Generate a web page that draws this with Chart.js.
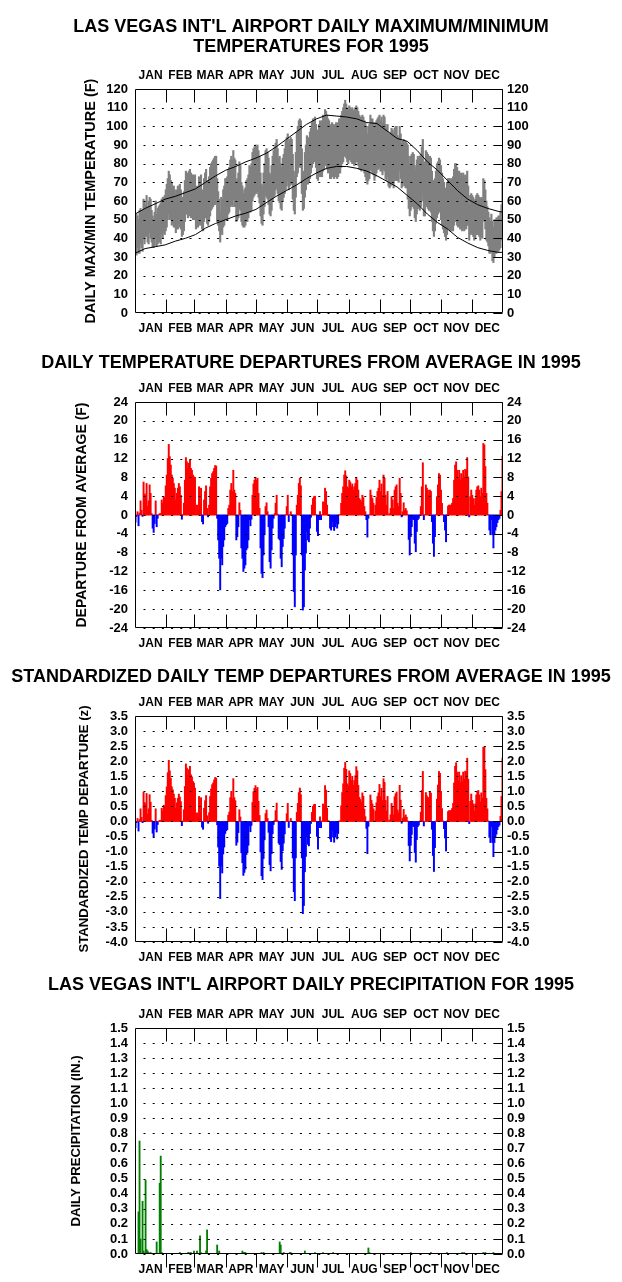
<!DOCTYPE html>
<html>
<head>
<meta charset="utf-8">
<script src="https://cdn.jsdelivr.net/npm/chart.js@4.4.0/dist/chart.umd.min.js"></script>
<style>
  body { margin: 0; background: #fff; }
  #wrap { position: relative; width: 622px; height: 1282px; background: #fff; }
  canvas { position: absolute; left: 0; }
</style>
</head>
<body>
<div id="wrap">
  <canvas id="c1" width="622" height="345" style="top:0px"></canvas>
  <canvas id="c2" width="622" height="310" style="top:345px"></canvas>
  <canvas id="c3" width="622" height="310" style="top:655px"></canvas>
  <canvas id="c4" width="622" height="317" style="top:965px"></canvas>
</div>
<script>
// ================== DATA ==================
const months = ["JAN", "FEB", "MAR", "APR", "MAY", "JUN", "JUL", "AUG", "SEP", "OCT", "NOV", "DEC"];
const monthStart = [0, 31, 59, 90, 120, 151, 181, 212, 243, 273, 304, 334, 365];

// normal max / min (read every 10 days)
const normDays = [0,10,20,30,40,50,60,70,80,90,100,110,120,130,140,150,160,170,180,190,200,210,220,230,240,250,260,270,280,290,300,310,320,330,340,350,360,365];
const normMax = [53,56,58.5,61,62.5,64.5,66.5,70,73.5,76.5,78.5,81,83,85.5,89,93,97,101,104,106,105.5,105,104,102,101.5,97.5,93.5,92,87,81,76.5,71,65.5,61,58,56,54.5,54];
const normMin = [32,34.5,35.5,36.5,38.5,40,42,45.5,48,50,52,53.5,55.5,59,62.5,65.5,68.5,72,75,77.5,78.5,78.5,77.5,76,73.5,70.5,67.5,63,58.5,53,48.5,45,40.5,37.5,35,33.5,32.5,32.5];

// daily observed max / min 1995
const tMax = [
  50,53,52,50,55,56,54,55,61,60, 58,63,57,60,62,61,55,52,50,54, 60,53,56,57,58,59,61,62,62,63,
  66,69,72,76,74,71,70,68,68,66, 64,66,68,68,69,66,60,62,65,71, 76,75,74,76,77,75,74,74,73,74,
  64,68,66,73,69,74,65,66,72,75, 77,71,69,73,78,80,81,82,83,84, 84,72,65,61,54,62,61,66,68,72,
  72,73,77,78,82,84,82,87,83,82, 71,72,75,81,79,70,68,64,66,67, 71,72,74,79,78,80,86,88,89,90,
  89,90,87,84,75,69,68,75,80,87, 88,86,83,75,74,79,84,87,89,91, 93,88,83,84,80,78,83,85,88,92,
  94,96,91,93,94,93,85,76,73,86, 97,100,103,104,103,88,75,76,86,90, 95,94,93,97,99,102,104,104,105,101,
  98,97,101,103,101,103,106,105,109,108, 106,104,103,101,100,102,101,100,101,102, 101,102,104,104,106,108,110,112,114,112,
  110,109,111,110,109,110,108,109,110,111, 110,108,106,105,105,106,105,103,102,100, 96,100,101,106,104,104,102,100,102,103,
  104,105,106,103,105,102,106,105,101,99, 101,96,96,97,99,98,96,99,100,100, 95,94,100,96,91,92,93,91,92,91,
  90,84,80,84,85,86,85,79,77,82, 84,83,84,85,89,93,80,81,87,86, 85,83,84,83,76,71,67,72,76,80,
  81,83,82,79,75,72,70,67,64,70, 72,72,72,71,72,73,77,80,80,78, 75,76,73,75,73,75,73,74,73,76,
  68,58,63,64,63,62,60,61,63,64, 63,62,61,62,61,72,71,66,60,57, 54,51,49,53,49,46,50,50,51,51,
  52,52,54,58,72
];
const tMin = [
  32,31,35,32,32,37,35,33,40,37, 41,41,38,37,43,40,38,35,35,36, 40,36,37,38,38,37,42,40,43,42,
  44,46,50,53,50,50,47,48,46,46, 43,45,45,48,46,45,41,42,44,49, 53,53,51,52,53,51,52,50,51,50,
  45,46,46,50,47,50,45,44,49,51, 51,48,47,49,52,55,56,57,58,58, 59,49,47,44,38,44,42,46,47,50,
  50,50,53,54,57,58,57,61,57,57, 49,50,51,56,55,49,47,46,46,47, 49,49,51,55,54,55,60,62,63,64,
  64,65,62,59,52,48,47,53,57,63, 62,61,58,53,52,55,60,62,63,66, 67,64,60,59,56,55,60,62,64,66,
  68,71,66,68,69,69,61,55,53,62, 73,75,78,79,78,64,55,56,62,66, 71,69,70,72,75,78,80,81,81,78,
  72,71,73,74,73,73,76,77,79,80, 77,75,76,72,72,74,73,72,73,73, 72,73,75,75,78,80,81,84,84,83,
  81,80,82,82,81,80,80,79,80,81, 81,79,77,77,76,77,77,75,73,71, 69,71,72,77,76,75,74,71,73,75,
  77,77,78,76,76,74,77,76,72,71, 73,68,67,68,70,69,67,71,71,71, 71,70,76,72,67,68,70,68,67,67,
  61,56,52,55,57,57,56,51,49,53, 56,56,55,57,60,64,52,52,58,57, 56,55,55,54,49,44,41,44,48,51,
  53,55,54,50,47,45,43,41,39,42, 46,45,44,44,44,44,47,49,50,47, 46,47,45,45,44,46,44,45,45,47,
  47,39,42,43,42,41,39,40,42,42, 42,41,39,41,40,50,49,45,39,38, 36,32,32,34,28,27,30,32,32,33,
  33,34,35,39,44
];

// daily departure from average (F)
const dep = [
  -1.5,-0.3,0.7,-2.3,0.4,3,1,-0.3,7,4.5, 4.2,6.7,1.8,3,6.4,4.6,0.3,-2.8,-3.7,-1.8,
  3,-2.5,-0.7,0.1,0.3,0.3,3.2,2.5,3.9,3.7, 6.2,8.5,12,15,12.4,10.6,8.5,7.8,6.7,5.7,
  3.2,4.6,5.7,6.7,6,4.2,-0.9,0.1,2.5,7.4, 12.2,11.3,9.9,11,11.7,9.9,9.5,8.5,8.1,8,
  0.3,2.1,1,6,2.1,5.7,-1.4,-1.9,3.2,5, 6.2,1.4,-0.4,2.1,6,7.8,8.8,9.2,9.9,10.5,
  10.4,-0.7,-5.3,-9.2,-15.9,-9.2,-10.6,-6.7,-5.3,-2.5, -2.1,-1.8,1.4,2.1,5.3,6.7,5,9.5,5.3,4.6,
  -5.3,-4.6,-2.5,2.6,1,-7,-9.2,-12,-11.3,-10.6, -7.4,-7,-5.3,-1,-2.3,-0.9,4.2,6.6,7.4,8,
  7.4,7.8,4.6,1.4,-7,-12.4,-13.3,-8.5,-4.2,1.8, 2.6,0.7,-2.5,-9.9,-11.3,-7.4,-2.8,-0.7,0.3,2.5,
  4.2,0.2,-5,-5.3,-9.2,-11,-6.7,-5,-2.8,0.1, 1.8,4.2,-1.4,0.1,0.7,0.1,-8.5,-16.3,-19.5,-8.5,
  2.1,4.2,6.7,7.8,6.2,-8.5,-20.2,-19.5,-11.7,-8.1, -3.5,-5.3,-5.7,-2.8,-0.5,2.1,3.5,3.9,4,0.1,
  -3.5,-4.4,-1,0.7,-1,0.1,2.8,2.5,5.7,5, 2.1,0.1,0.1,-2.8,-3.2,-1.4,-2.5,-3.3,-2.5,-1.8,
  -2.8,-1.9,0.1,0.1,2.5,4.6,6,8.5,9.4,8.3, 6,5.7,7.4,7,6,6.6,5.3,6,6.7,8,
  7.4,5.3,3.5,3.2,2.8,4.2,3.7,1.8,0.7,-1, -4.7,-0.7,0.1,5.3,4.2,3.5,2.5,0.1,2.1,3.7,
  5,5.7,7.4,5,6.6,4.2,8.5,7.8,4.2,2.1, 5,0.1,0.3,1.4,3.9,3.2,1.4,5.3,6,6.4,
  2.5,1.8,7.8,4.6,-0.4,0.7,2.6,1,1.4,0.9, 0.1,-5.2,-8.5,-4.6,-2.5,-0.9,-1,-6,-7.8,-3.5,
  -1,-0.7,0.1,1.8,6,11.1,-1,0.1,6.4,5.7, 5.3,4.2,5.3,5,-1.4,-6,-8.8,-4.6,0.1,3.9,
  6.4,8.8,8.5,5.3,2.5,0.1,-1.4,-3.2,-5.7,0.1, 1.9,2.1,2.1,2.1,2.5,3.5,7.4,10.6,11.3,9.5,
  7.8,9.5,7.4,8.8,7.8,9.5,8.1,9.7,9.5,12.2, 8.1,-0.4,3.9,5.3,4.2,3.5,2.1,3.5,5.3,6,
  6.2,5.3,3.9,5.7,4.6,15.2,14.9,10.3,4.6,2.5, 0.1,-3.2,-4.2,-1,-4.2,-7,-4.2,-3.2,-2.5,-1.6,
  -1,-0.7,1,5,12.5
];

// standardized daily departure (z)
const depZ = [
  -0.21,-0.04,0.1,-0.32,0.06,0.42,0.14,-0.04,0.97,0.63, 0.58,0.93,0.25,0.42,0.89,0.64,0.04,-0.39,-0.51,-0.25,
  0.42,-0.35,-0.1,0.01,0.04,0.04,0.44,0.35,0.54,0.51, 0.86,1.15,1.62,2.03,1.68,1.43,1.15,1.05,0.91,0.77,
  0.43,0.62,0.77,0.91,0.81,0.66,-0.14,0.02,0.39,1.16, 1.91,1.77,1.55,1.72,1.83,1.55,1.48,1.33,1.27,1.11,
  0.04,0.29,0.14,0.83,0.29,0.79,-0.19,-0.26,0.44,0.69, 0.86,0.19,-0.06,0.29,0.83,1.08,1.22,1.28,1.38,1.46,
  1.44,-0.11,-0.85,-1.48,-2.56,-1.48,-1.71,-1.08,-0.85,-0.4, -0.31,-0.27,0.21,0.31,0.79,1,0.75,1.42,0.79,0.69,
  -0.79,-0.69,-0.37,0.39,0.15,-1.04,-1.37,-1.79,-1.69,-1.58, -1.1,-1.04,-0.79,-0.15,-0.34,-0.13,0.63,0.99,1.1,1.19,
  1.07,1.13,0.67,0.2,-1.01,-1.8,-1.93,-1.23,-0.61,0.26, 0.38,0.1,-0.36,-1.43,-1.64,-1.07,-0.41,-0.1,0.04,0.36,
  0.61,0.03,-0.72,-0.77,-1.33,-1.59,-0.97,-0.72,-0.41,0.01, 0.26,0.6,-0.2,0.01,0.1,0.01,-1.21,-2.33,-2.63,-1.21,
  0.3,0.6,0.96,1.11,0.89,-1.21,-3.06,-2.79,-1.67,-1.16, -0.5,-0.76,-0.81,-0.4,-0.07,0.3,0.5,0.56,0.57,0.01,
  -0.5,-0.92,-0.21,0.15,-0.21,0.02,0.58,0.52,1.19,1.04, 0.44,0.02,0.02,-0.58,-0.67,-0.29,-0.52,-0.69,-0.52,-0.38,
  -0.58,-0.4,0.02,0.02,0.52,0.96,1.25,1.77,1.96,1.73, 1.25,1.19,1.68,1.59,1.36,1.5,1.2,1.36,1.52,1.82,
  1.68,1.2,0.8,0.73,0.64,0.95,0.84,0.41,0.16,-0.23, -1.07,-0.16,0.02,0.88,0.7,0.58,0.42,0.02,0.35,0.62,
  0.83,0.95,1.23,0.83,1.1,0.7,1.42,1.3,0.7,0.35, 0.83,0.02,0.05,0.22,0.6,0.49,0.22,0.82,0.92,0.98,
  0.38,0.28,1.2,0.71,-0.06,0.11,0.4,0.15,0.22,0.14, 0.02,-0.8,-1.31,-0.79,-0.43,-0.16,-0.17,-1.03,-1.35,-0.6,
  -0.17,-0.12,0.02,0.31,1.03,1.66,-0.15,0.01,0.96,0.85, 0.79,0.79,1,0.94,-0.26,-1.13,-1.66,-0.87,0.02,0.74,
  1.21,1.66,1.6,1,0.43,0.02,-0.24,-0.55,-0.98,0.02, 0.33,0.36,0.36,0.36,0.43,0.6,1.28,1.83,1.95,1.64,
  1.34,1.64,1.28,1.52,1.34,1.64,1.4,1.67,1.64,2.1, 1.4,-0.07,0.67,0.91,0.7,0.58,0.35,0.58,0.88,1,
  1.03,0.88,0.65,0.95,0.77,2.46,2.48,1.72,0.77,0.42, 0.02,-0.53,-0.7,-0.17,-0.7,-1.17,-0.7,-0.53,-0.42,-0.27,
  -0.17,-0.12,0.17,0.83,2.1
];

// daily precipitation (inches), only days with rain
const precipDay = [3,4,5,7,8,10,11,12,13,15,21,24,25,26,44,52,53,55,58,61,64,65,70,71,81,83,106,107,108,109,125,127,143,144,147,153,154,168,178,186,196,231,232,273,293,309,324,326,345,347,355];
const precipIn = [0.28,0.75,0.10,0.35,0.02,0.49,0.03,0.02,0.01,0.01,0.08,0.47,0.65,0.01,0.01,0.01,0.01,0.01,0.02,0.02,0.12,0.01,0.02,0.16,0.06,0.02,0.02,0.01,0.01,0.01,0.01,0.01,0.08,0.06,0.01,0.01,0.01,0.02,0.01,0.01,0.01,0.04,0.01,0.01,0.01,0.01,0.01,0.01,0.01,0.01,0.01];

// ================== STYLE ==================
const FONT = "'Liberation Sans', Arial, sans-serif";

// frame, dotted grid and month ticks
const framePlugin = {
  id: 'frame',
  afterDatasetsDraw(chart, args, opts) {
    const ctx = chart.ctx, a = chart.chartArea;
    const xs = chart.scales.x, ys = chart.scales.y;
    const L = Math.round(a.left) + 0.5, R = Math.round(a.right) - 0.5;
    const T = Math.round(a.top) + 0.5, B = Math.round(a.bottom) - 0.5;
    ctx.save();
    ctx.strokeStyle = '#000';
    ctx.lineWidth = 1;
    ctx.setLineDash([2, 7.2]);
    ys.ticks.forEach(t => {
      const py = Math.round(ys.getPixelForValue(t.value)) + 0.5;
      ctx.beginPath(); ctx.moveTo(L + 8, py); ctx.lineTo(R - 9, py); ctx.stroke();
    });
    ctx.setLineDash([]);
    ctx.beginPath();
    ys.ticks.forEach(t => {
      const py = Math.round(ys.getPixelForValue(t.value)) + 0.5;
      ctx.moveTo(R - 9, py); ctx.lineTo(R, py);
    });
    monthStart.slice(1, 12).forEach(d => {
      const px = Math.round(xs.getPixelForValue(d)) + 0.5;
      ctx.moveTo(px, T); ctx.lineTo(px, T + 13);
      if (opts.outBottom) { ctx.moveTo(px, B); ctx.lineTo(px, B + 14); }
      else { ctx.moveTo(px, B - 13); ctx.lineTo(px, B); }
    });
    ctx.rect(L, T, R - L, B - T);
    ctx.stroke();
    ctx.restore();
  }
};
Chart.register(framePlugin);

function xAxis(position, height) {
  return {
    type: 'linear', position: position, min: 0, max: 365, offset: false,
    grid: { display: false, drawTicks: false, offset: false }, border: { display: false },
    afterBuildTicks: s => { s.ticks = months.map((m, i) => ({ value: (monthStart[i] + monthStart[i + 1]) / 2 })); },
    afterFit: s => { s.height = height; },
    ticks: {
      autoSkip: false, maxRotation: 0, minRotation: 0, padding: position === 'top' ? 6 : 8, color: '#000',
      font: { family: FONT, size: 12, weight: 'bold' },
      callback: (v, i) => months[i]
    }
  };
}

function yAxis(position, c) {
  const left = position === 'left';
  return {
    type: 'linear', position: position, min: c.min, max: c.max,
    grid: { display: false, drawTicks: false }, border: { display: false },
    afterFit: s => { s.width = left ? 135 : 119; },
    ticks: {
      stepSize: c.step, autoSkip: false, padding: left ? 7 : 4, color: '#000',
      font: { family: FONT, size: 13, weight: 'bold' },
      callback: c.fmt
    },
    title: {
      display: left, text: c.yTitle, color: '#000',
      font: { family: FONT, size: c.yTitleSize, weight: 'bold', lineHeight: 1.2 },
      padding: { top: c.yTitleX - c.yTitleSize * 0.6, bottom: 0 }
    }
  };
}

function options(c) {
  return {
    responsive: false, animation: false, devicePixelRatio: 1,
    layout: { padding: 0 },
    plugins: {
      legend: { display: false },
      tooltip: { enabled: false },
      title: {
        display: true, text: c.title, color: '#000',
        font: { family: FONT, size: 18, weight: 'bold', lineHeight: 1.1 },
        padding: { top: c.titleTop, bottom: c.titleBottom }
      },
      frame: { outBottom: !!c.outBottom }
    },
    scales: {
      x: xAxis('bottom', c.bottomH),
      x2: xAxis('top', c.topH),
      y: yAxis('left', c),
      y2: yAxis('right', c)
    }
  };
}

const upDown = ctx => (ctx.raw && ctx.raw.y < 0) ? '#0000ff' : '#ff0000';

// ================== CHART 1: MAX / MIN ==================
new Chart(document.getElementById('c1'), {
  type: 'bar',
  data: {
    datasets: [
      { type: 'line', data: normDays.map((d, i) => ({ x: d, y: normMax[i] })), borderColor: '#000', borderWidth: 1, pointRadius: 0, order: 1 },
      { type: 'line', data: normDays.map((d, i) => ({ x: d, y: normMin[i] })), borderColor: '#000', borderWidth: 1, pointRadius: 0, order: 1 },
      { type: 'bar', data: tMax.map((v, i) => ({ x: i + 0.5, y: [tMin[i], v] })), backgroundColor: '#808080', borderWidth: 0, barThickness: 1.5, order: 2 }
    ]
  },
  options: options({
    title: ["LAS VEGAS INT'L AIRPORT DAILY MAXIMUM/MINIMUM", "TEMPERATURES FOR 1995"],
    titleTop: 17, titleBottom: 7.4, topH: 25, bottomH: 32,
    min: 0, max: 120, step: 10, fmt: v => v,
    yTitle: "DAILY MAX/MIN TEMPERATURE (F)", yTitleX: 91, yTitleSize: 14.5
  })
});

// ================== CHART 2: DEPARTURES ==================
new Chart(document.getElementById('c2'), {
  type: 'bar',
  data: {
    datasets: [
      { data: dep.map((v, i) => ({ x: i + 0.5, y: v })), backgroundColor: upDown, borderWidth: 0, barThickness: 1.3 }
    ]
  },
  options: options({
    title: "DAILY TEMPERATURE DEPARTURES FROM AVERAGE IN 1995",
    titleTop: 8, titleBottom: 4.2, topH: 25, bottomH: 27,
    min: -24, max: 24, step: 4, fmt: v => v,
    yTitle: "DEPARTURE FROM AVERAGE (F)", yTitleX: 82, yTitleSize: 14
  })
});

// ================== CHART 3: STANDARDIZED ==================
new Chart(document.getElementById('c3'), {
  type: 'bar',
  data: {
    datasets: [
      { data: depZ.map((v, i) => ({ x: i + 0.5, y: v })), backgroundColor: upDown, borderWidth: 0, barThickness: 1.3 }
    ]
  },
  options: options({
    title: "STANDARDIZED DAILY TEMP DEPARTURES FROM AVERAGE IN 1995",
    titleTop: 12, titleBottom: 4.2, topH: 25, bottomH: 23,
    min: -4, max: 3.5, step: 0.5, fmt: v => v.toFixed(1),
    yTitle: "STANDARDIZED TEMP DEPARTURE (z)", yTitleX: 84, yTitleSize: 13.2
  })
});

// ================== CHART 4: PRECIPITATION ==================
new Chart(document.getElementById('c4'), {
  type: 'bar',
  data: {
    datasets: [
      { data: precipDay.map((d, i) => ({ x: d + 0.5, y: precipIn[i] })), backgroundColor: '#008000', borderWidth: 0, barThickness: 1.2 }
    ]
  },
  options: options({
    title: "LAS VEGAS INT'L AIRPORT DAILY PRECIPITATION FOR 1995",
    titleTop: 10, titleBottom: 8.2, topH: 25, bottomH: 28, outBottom: true,
    min: 0, max: 1.5, step: 0.1, fmt: v => v.toFixed(1),
    yTitle: "DAILY PRECIPITATION (IN.)", yTitleX: 76, yTitleSize: 13.2
  })
});
</script>
</body>
</html>
